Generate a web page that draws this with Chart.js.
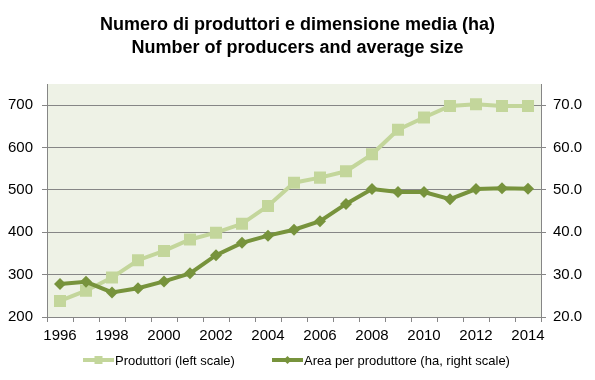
<!DOCTYPE html>
<html>
<head>
<meta charset="utf-8">
<script src="https://cdn.jsdelivr.net/npm/chart.js@4.4.0/dist/chart.umd.min.js"></script>
<style>
    html, body { margin: 0; padding: 0; background: #fff; }
    #wrap { width: 595px; height: 380px; }
</style>
</head>
<body>
<div id="wrap"><canvas id="chart" width="595" height="380"></canvas></div>
<script>
// Data
const years = ['1996', '1997', '1998', '1999', '2000', '2001', '2002', '2003', '2004', '2005',
               '2006', '2007', '2008', '2009', '2010', '2011', '2012', '2013', '2014'];
const producers = [238, 262, 293, 334, 356, 383, 399, 420, 462, 517,
                   529, 544, 584, 642, 671, 698, 702, 698, 698];
const areaPerProducer = [27.8, 28.3, 25.8, 26.8, 28.4, 30.3, 34.6, 37.5, 39.2, 40.6,
                         42.6, 46.7, 50.2, 49.5, 49.5, 47.8, 50.2, 50.4, 50.3];
const leftTicks = [200, 300, 400, 500, 600, 700];
const rightTicks = [20, 30, 40, 50, 60, 70];

const LIGHT = '#c3d69b';
const DARK = '#77933c';
const GRID = '#868686';
const FAMILY = "'Liberation Sans', Arial, sans-serif";
const AXIS_FONT = { family: FAMILY, size: 15 };

// plot area background
const plotBackground = {
    id: 'plotBackground',
    beforeDraw(chart) {
        const { ctx, chartArea: a } = chart;
        ctx.save();
        ctx.fillStyle = '#eef2e6';
        ctx.fillRect(a.left, a.top, a.right - a.left, a.bottom - a.top);
        ctx.restore();
    }
};

// legend drawn as line + marker, like the original
const lineLegend = {
    id: 'lineLegend',
    afterDraw(chart) {
        const ctx = chart.ctx;
        const y = 360;
        const items = [
            { ds: chart.data.datasets[0], x: 83 },
            { ds: chart.data.datasets[1], x: 272 }
        ];
        ctx.save();
        items.forEach(({ ds, x }) => {
            ctx.strokeStyle = ds.borderColor;
            ctx.lineWidth = 4;
            ctx.beginPath();
            ctx.moveTo(x, y);
            ctx.lineTo(x + 31, y);
            ctx.stroke();
            const cx = x + 15.5;
            ctx.fillStyle = ds.pointBackgroundColor;
            ctx.beginPath();
            if (ds.pointStyle === 'rect') {
                ctx.rect(cx - 4, y - 4, 8, 8);
            } else {
                ctx.moveTo(cx, y - 4);
                ctx.lineTo(cx + 4, y);
                ctx.lineTo(cx, y + 4);
                ctx.lineTo(cx - 4, y);
                ctx.closePath();
            }
            ctx.fill();
            ctx.fillStyle = '#000';
            ctx.font = '13px ' + FAMILY;
            ctx.textBaseline = 'middle';
            ctx.textAlign = 'left';
            ctx.fillText(ds.label, x + 32, y + 1);
        });
        ctx.restore();
    }
};

new Chart(document.getElementById('chart'), {
    type: 'line',
    data: {
        labels: years,
        datasets: [
            {
                label: 'Produttori (left scale)',
                data: producers,
                yAxisID: 'y',
                borderColor: LIGHT,
                backgroundColor: LIGHT,
                pointBackgroundColor: LIGHT,
                pointBorderColor: LIGHT,
                borderWidth: 4,
                pointStyle: 'rect',
                pointRadius: 8.5,
                pointBorderWidth: 0,
                tension: 0,
                order: 2
            },
            {
                label: 'Area per produttore (ha, right scale)',
                data: areaPerProducer,
                yAxisID: 'y1',
                borderColor: DARK,
                backgroundColor: DARK,
                pointBackgroundColor: DARK,
                pointBorderColor: DARK,
                borderWidth: 4,
                pointStyle: 'rectRot',
                pointRadius: 6,
                pointBorderWidth: 0,
                tension: 0,
                order: 1
            }
        ]
    },
    options: {
        responsive: false,
        animation: false,
        layout: { padding: { left: 0, right: 0, top: 0, bottom: 30 } },
        plugins: {
            legend: { display: false },
            tooltip: { enabled: false },
            title: {
                display: true,
                text: ['Numero di produttori e dimensione media (ha)', 'Number of producers and average size'],
                color: '#000',
                font: { family: FAMILY, size: 18, weight: 'bold', lineHeight: 1.25 },
                padding: { top: 14, bottom: 25 }
            }
        },
        scales: {
            x: {
                type: 'category',
                offset: true,
                grid: { display: true, drawOnChartArea: false, drawTicks: true, tickLength: 5, color: GRID, offset: true },
                border: { color: GRID },
                ticks: {
                    autoSkip: false,
                    maxRotation: 0,
                    color: '#000',
                    font: AXIS_FONT,
                    padding: 5,
                    callback: (v, i) => (i % 2 === 0 ? years[i] : '')
                }
            },
            y: {
                position: 'left',
                min: 200,
                max: 750,
                afterFit: (s) => { s.width = 47; },
                afterBuildTicks: (s) => { s.ticks = leftTicks.map(v => ({ value: v })); },
                grid: { color: GRID, tickLength: 5 },
                border: { color: GRID },
                ticks: { color: '#000', font: AXIS_FONT, padding: 9 }
            },
            y1: {
                position: 'right',
                min: 20,
                max: 75,
                afterFit: (s) => { s.width = 54; },
                afterBuildTicks: (s) => { s.ticks = rightTicks.map(v => ({ value: v })); },
                grid: { drawOnChartArea: false, color: GRID, tickLength: 5 },
                border: { color: GRID },
                ticks: { color: '#000', font: AXIS_FONT, padding: 7, callback: (v) => v.toFixed(1) }
            }
        }
    },
    plugins: [plotBackground, lineLegend]
});
</script>
</body>
</html>
